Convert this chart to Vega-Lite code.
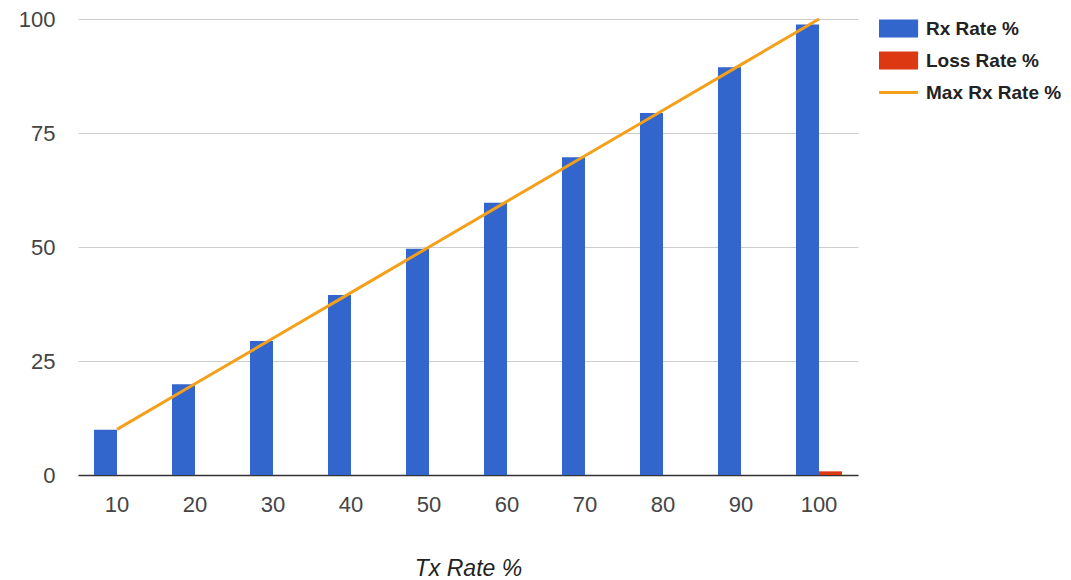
{
  "$schema": "https://vega.github.io/schema/vega-lite/v6.json",
  "width": 780,
  "height": 456,
  "autosize": "none",
  "padding": {"left": 78, "top": 19, "right": 213, "bottom": 105},
  "background": "white",
  "config": {
    "view": {"stroke": null},
    "font": "Liberation Sans"
  },
  "data": {
    "values": [
      {"tx": "10", "series": "Rx Rate %", "value": 9.9},
      {"tx": "20", "series": "Rx Rate %", "value": 19.9},
      {"tx": "30", "series": "Rx Rate %", "value": 29.4},
      {"tx": "40", "series": "Rx Rate %", "value": 39.5},
      {"tx": "50", "series": "Rx Rate %", "value": 49.6},
      {"tx": "60", "series": "Rx Rate %", "value": 59.7},
      {"tx": "70", "series": "Rx Rate %", "value": 69.7},
      {"tx": "80", "series": "Rx Rate %", "value": 79.4},
      {"tx": "90", "series": "Rx Rate %", "value": 89.4},
      {"tx": "100", "series": "Rx Rate %", "value": 98.8},
      {"tx": "10", "series": "Loss Rate %", "value": 0},
      {"tx": "20", "series": "Loss Rate %", "value": 0},
      {"tx": "30", "series": "Loss Rate %", "value": 0},
      {"tx": "40", "series": "Loss Rate %", "value": 0},
      {"tx": "50", "series": "Loss Rate %", "value": 0},
      {"tx": "60", "series": "Loss Rate %", "value": 0},
      {"tx": "70", "series": "Loss Rate %", "value": 0},
      {"tx": "80", "series": "Loss Rate %", "value": 0},
      {"tx": "90", "series": "Loss Rate %", "value": 0},
      {"tx": "100", "series": "Loss Rate %", "value": 0.8},
      {"tx": "10", "series": "Max Rx Rate %", "value": 10},
      {"tx": "20", "series": "Max Rx Rate %", "value": 20},
      {"tx": "30", "series": "Max Rx Rate %", "value": 30},
      {"tx": "40", "series": "Max Rx Rate %", "value": 40},
      {"tx": "50", "series": "Max Rx Rate %", "value": 50},
      {"tx": "60", "series": "Max Rx Rate %", "value": 60},
      {"tx": "70", "series": "Max Rx Rate %", "value": 70},
      {"tx": "80", "series": "Max Rx Rate %", "value": 80},
      {"tx": "90", "series": "Max Rx Rate %", "value": 90},
      {"tx": "100", "series": "Max Rx Rate %", "value": 100}
    ]
  },
  "encoding": {
    "x": {
      "field": "tx",
      "type": "ordinal",
      "sort": null,
      "scale": {"paddingInner": 0.41, "paddingOuter": 0.205},
      "axis": {
        "title": "Tx Rate %",
        "titleFont": "Liberation Sans",
        "titleFontStyle": "italic",
        "titleFontWeight": "normal",
        "titleFontSize": 23,
        "titleColor": "#222222",
        "titlePadding": 42,
        "labelAngle": 0,
        "labelFontSize": 22,
        "labelColor": "#444444",
        "labelPadding": 19,
        "ticks": false,
        "domainColor": "#333333",
        "domainWidth": 1.5,
        "grid": false
      }
    },
    "y": {
      "field": "value",
      "type": "quantitative",
      "scale": {"domain": [0, 100], "nice": false},
      "axis": {
        "title": null,
        "values": [0, 25, 50, 75, 100],
        "labelFontSize": 22,
        "labelColor": "#444444",
        "labelPadding": 23,
        "ticks": false,
        "domain": false,
        "gridColor": "#cccccc",
        "gridWidth": 1
      }
    },
    "color": {
      "field": "series",
      "type": "nominal",
      "scale": {
        "domain": ["Rx Rate %", "Loss Rate %", "Max Rx Rate %"],
        "range": ["#3366cc", "#dc3912", "#f5a01a"]
      },
      "legend": {
        "title": null,
        "orient": "right",
        "offset": 20,
        "symbolSize": 289,
        "labelFontSize": 19,
        "labelFontWeight": "bold",
        "labelColor": "#222222",
        "labelOffset": 29,
        "rowPadding": 12,
        "symbolStrokeWidth": 0,
        "encode": {
          "symbols": {
            "update": {
              "shape": {"signal": "datum.value === 'Max Rx Rate %' ? 'M-1,-1.06M3.6,1.06M-1,-0.18H3.6V0.18H-1Z' : 'M-1,-1.06H3.6V1.06H-1Z'"},
              "fill": {"signal": "scale('color', datum.value)"},
              "stroke": {"value": "transparent"},
              "strokeWidth": {"value": 0},
              "opacity": {"value": 1},
              "fillOpacity": {"value": 1}
            }
          }
        }
      }
    }
  },
  "layer": [
    {
      "transform": [{"filter": "datum.series !== 'Max Rx Rate %'"}],
      "mark": {"type": "bar", "opacity": 1},
      "encoding": {
        "xOffset": {
          "field": "series",
          "type": "nominal",
          "scale": {"domain": ["Rx Rate %", "Loss Rate %"], "paddingInner": 0, "paddingOuter": 0}
        }
      }
    },
    {
      "transform": [{"filter": "datum.series === 'Max Rx Rate %'"}],
      "mark": {"type": "line", "strokeWidth": 3},
      "encoding": {}
    }
  ]
}
